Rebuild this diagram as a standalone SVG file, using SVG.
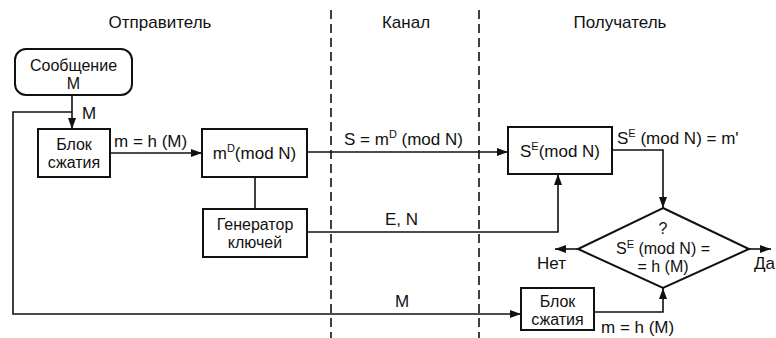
<svg xmlns="http://www.w3.org/2000/svg" width="776" height="338" viewBox="0 0 776 338">
<style>
text{font-family:"Liberation Sans",Arial,sans-serif;font-size:17px;fill:#111}
.c{text-anchor:middle}
.m{font-size:16px}
.box{fill:#fff;stroke:#111;stroke-width:2}
.ln{fill:none;stroke:#111;stroke-width:1.6}
.arr{fill:none;stroke:#111;stroke-width:1.6;marker-end:url(#ah)}
.dash{fill:none;stroke:#111;stroke-width:1.6;stroke-dasharray:9 5}
.sup{font-size:11px}
</style>
<defs>
<marker id="ah" markerWidth="12" markerHeight="10" refX="11" refY="4" orient="auto" markerUnits="userSpaceOnUse">
<path d="M0,0 L11,4 L0,8 Z" fill="#111"/>
</marker>
</defs>
<g id="headers">
<text x="160" y="28" class="c">Отправитель</text>
<text x="406" y="28" class="c">Канал</text>
<text x="620" y="28" class="c">Получатель</text>
<line class="dash" x1="331" y1="10" x2="331" y2="338"/>
<line class="dash" x1="479" y1="10" x2="479" y2="338"/>
</g>
<g id="connectors">
<path class="arr" d="M72,95 V129"/>
<path class="ln" d="M72,112 H13 V314 H331"/>
<path class="arr" d="M331,314 H521"/>
<path class="arr" d="M110,153 H202"/>
<path class="arr" d="M307,152 H508"/>
<path class="ln" d="M255,177 V209"/>
<path class="arr" d="M307,232 H558 V174"/>
<path class="arr" d="M612,150 H663 V208"/>
<path class="arr" d="M594,312 H663 V288"/>
<path class="arr" d="M578,249 H555"/>
<path class="arr" d="M749,249 H771"/>
</g>
<g id="labels">
<text x="82" y="119">M</text>
<text x="114" y="147">m = h (M)</text>
<text x="344" y="145">S = m<tspan class="sup" dy="-7">D</tspan><tspan dy="7"> (mod N)</tspan></text>
<text x="385" y="225">E, N</text>
<text x="617" y="144">S<tspan class="sup" dy="-7">E</tspan><tspan dy="7"> (mod N) = m'</tspan></text>
<text x="402" y="307" class="c">M</text>
<text x="601" y="333">m = h (M)</text>
<text x="537" y="269">Нет</text>
<text x="754" y="269">Да</text>
</g>
<g id="message">
<rect class="box" x="15" y="49" width="117" height="46" rx="11"/>
<text class="c m" x="73.5" y="71">Сообщение</text>
<text class="c m" x="73.5" y="89">M</text>
</g>
<g id="hash1">
<rect class="box" x="38" y="129" width="72" height="48"/>
<text class="c m" x="74" y="150">Блок</text>
<text class="c m" x="74" y="168">сжатия</text>
</g>
<g id="sign">
<rect class="box" x="202" y="129" width="105" height="48"/>
<text x="254.5" y="159" class="c">m<tspan class="sup" dy="-7">D</tspan><tspan dy="7">(mod N)</tspan></text>
</g>
<g id="keygen">
<rect class="box" x="203" y="209" width="104" height="48"/>
<text class="c m" x="255" y="230">Генератор</text>
<text class="c m" x="255" y="248">ключей</text>
</g>
<g id="verify">
<rect class="box" x="508" y="127" width="104" height="47"/>
<text x="560" y="157" class="c">S<tspan class="sup" dy="-7">E</tspan><tspan dy="7">(mod N)</tspan></text>
</g>
<g id="decision">
<polygon class="box" points="663,208 749,249 663,288 578,249"/>
<text class="c m" x="663" y="234">?</text>
<text class="c m" x="663" y="254">S<tspan class="sup" dy="-6">E</tspan><tspan dy="6"> (mod N) =</tspan></text>
<text class="c m" x="663" y="272">= h (M)</text>
</g>
<g id="hash2">
<rect class="box" x="521" y="288" width="73" height="42"/>
<text class="c m" x="557.5" y="307">Блок</text>
<text class="c m" x="557.5" y="325">сжатия</text>
</g>
</svg>
